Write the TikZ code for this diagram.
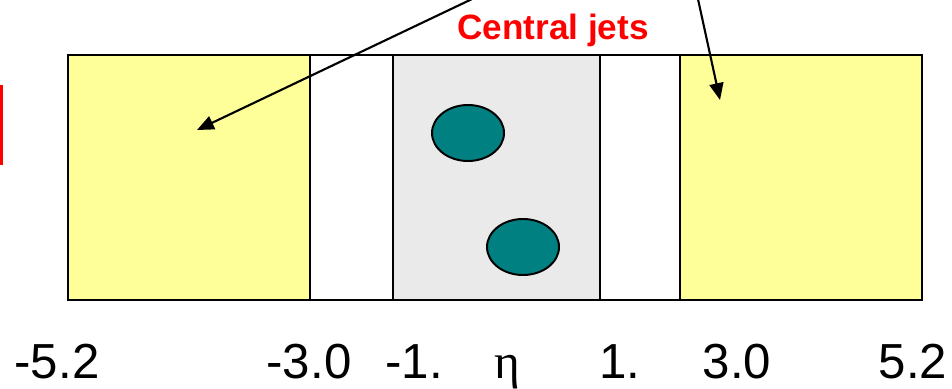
\documentclass[tikz,border=0pt]{standalone}
\usepackage{fontspec}
\setmainfont{Liberation Sans}
\newfontfamily\greekserif{Liberation Serif}
\usepackage{tikz}
\usetikzlibrary{arrows.meta, positioning, shapes.geometric}
\definecolor{paleyellow}{RGB}{255,255,153}
\definecolor{centralgray}{RGB}{234,234,234}
\definecolor{jetteal}{RGB}{0,128,128}

\begin{document}
\begin{tikzpicture}[
        x=0.025cm, y=0.025cm,
        region/.style={draw, line width=1.4pt, inner sep=0pt, outer sep=0pt, minimum height=6.125cm},
        fwdbox/.style={region, fill=paleyellow, minimum width=6.05cm},
        cenbox/.style={region, fill=centralgray, minimum width=5.175cm},
        jet/.style={ellipse, draw, line width=1.4pt, fill=jetteal, minimum width=1.8cm, minimum height=1.4cm, inner sep=0pt},
        arrow/.style={-{Triangle[length=12pt, width=10pt]}, line width=1.5pt},
        tick/.style={anchor=base, inner sep=0pt, font=\fontsize{35}{40}\selectfont}
    ]
        \useasboundingbox (0,0) rectangle (952,388);
        \clip (0,0) rectangle (952,388);

        \draw[line width=2pt] (68,88) rectangle (922,333);
        \node[fwdbox, anchor=south west] (fwdl) at (68,88) {};
        \node[cenbox, right=2.075cm of fwdl] (cen) {};
        \node[fwdbox, right=2cm of cen] (fwdr) {};
        \draw[line width=2pt] (68,333) -- (922,333) (68,88) -- (922,88);

        \node[jet] (jeta) at (468,255) {};
        \node[jet] (jetb) at (523,141) {};

        \node[anchor=base, text=red, font=\bfseries\fontsize{25}{28}\selectfont] (central) at (553,348) {Central jets};

        \fill[red] (0,223) rectangle (3,303);

        \coordinate (srcl) at (491,398);
        \coordinate (srcr) at (696,398);
        \coordinate (tipl) at (197,258);
        \coordinate (tipr) at (720,288);
        \draw[arrow] (srcl) -- (tipl);
        \draw[arrow] (srcr) -- (tipr);

        \node[tick] (m52) at (57,10) {-5.2};
        \node[tick] (m30) at (309,10) {-3.0};
        \node[tick] (m10) at (414,10) {-1.};
        \node[tick] (eta) at (507,10) {\greekserif η};
        \node[tick] (p10) at (620,10) {1.};
        \node[tick] (p30) at (737,10) {3.0};
        \node[tick] (p52) at (913,10) {5.2};
    \end{tikzpicture}
\end{document}
